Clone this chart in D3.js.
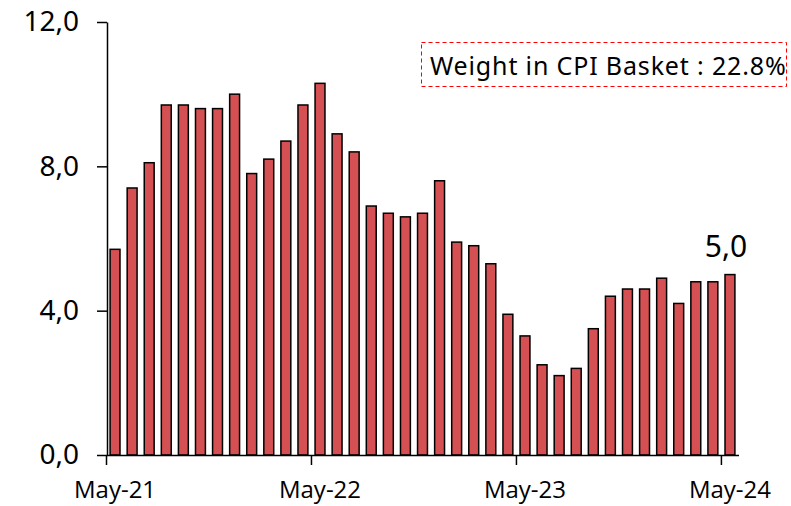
<!DOCTYPE html>
<html>
<head>
<meta charset="utf-8">
<script src="https://cdn.jsdelivr.net/npm/d3@7"></script>
<style>
  body { margin: 0; background: #fff; }
  svg { display: block; }
</style>
</head>
<body>
<svg id="chart" width="791" height="506"></svg>
<script>
// monthly data, May-21 .. May-24
const months = [
  "May-21", "Jun-21", "Jul-21", "Aug-21", "Sep-21", "Oct-21", "Nov-21", "Dec-21",
  "Jan-22", "Feb-22", "Mar-22", "Apr-22", "May-22", "Jun-22", "Jul-22", "Aug-22",
  "Sep-22", "Oct-22", "Nov-22", "Dec-22", "Jan-23", "Feb-23", "Mar-23", "Apr-23",
  "May-23", "Jun-23", "Jul-23", "Aug-23", "Sep-23", "Oct-23", "Nov-23", "Dec-23",
  "Jan-24", "Feb-24", "Mar-24", "Apr-24", "May-24"
];
const values = [
  5.7, 7.4, 8.1, 9.7, 9.7, 9.6, 9.6, 10.0,
  7.8, 8.2, 8.7, 9.7, 10.3, 8.9, 8.4, 6.9,
  6.7, 6.6, 6.7, 7.6, 5.9, 5.8, 5.3, 3.9,
  3.3, 2.5, 2.2, 2.4, 3.5, 4.4, 4.6, 4.6,
  4.9, 4.2, 4.8, 4.8, 5.0
];
const yTicks = [0, 4, 8, 12];
const xTickLabels = ["May-21", "May-22", "May-23", "May-24"];
const noteText = "Weight in CPI Basket : 22.8%";
const lastLabel = "5,0";

const svg = d3.select("#chart");

const x = d3.scaleBand()
  .domain(months)
  .range([106.5, 738.5])
  .paddingInner(0.42)
  .paddingOuter(0.21);

const y = d3.scaleLinear()
  .domain([0, 12])
  .range([455, 22]);

const fmt = (d) => d.toFixed(1).replace(".", ",");

// bars
svg.append("g")
  .selectAll("rect")
  .data(values)
  .join("rect")
  .attr("x", (d, i) => x(months[i]))
  .attr("y", (d) => y(d))
  .attr("width", x.bandwidth())
  .attr("height", (d) => y(0) - y(d))
  .attr("fill", "#d45052")
  .attr("stroke", "#000")
  .attr("stroke-width", 1.5);

// y axis
const yAxis = svg.append("g")
  .attr("transform", "translate(107,0)")
  .call(d3.axisLeft(y).tickValues(yTicks).tickFormat(fmt).tickSize(10).tickSizeOuter(0));
yAxis.select(".domain").attr("stroke", "#000").attr("stroke-width", 1.5);
yAxis.selectAll(".tick line").attr("stroke-width", 1.5);
yAxis.selectAll(".tick text")
  .attr("x", -28)
  .attr("font-family", "'Noto Sans', sans-serif")
  .attr("font-size", 28)
  .attr("fill", "#000");

// x axis: ticks at category boundaries, labels under the bar
const xAxis = svg.append("g")
  .attr("transform", `translate(0,${y(0)})`)
  .call(d3.axisBottom(x).tickValues(xTickLabels).tickSize(10).tickSizeOuter(0));
xAxis.select(".domain").attr("stroke", "#000").attr("stroke-width", 1.5);
xAxis.selectAll(".tick line")
  .attr("x1", -x.step() / 2)
  .attr("x2", -x.step() / 2)
  .attr("stroke-width", 1.5);
xAxis.selectAll(".tick text")
  .attr("y", 43)
  .attr("dy", null)
  .attr("font-family", "'Open Sans', 'Noto Sans', sans-serif")
  .attr("font-size", 24)
  .attr("fill", "#000");

// value label on the last bar
const lastName = months[months.length - 1];
svg.append("text")
  .attr("x", x(lastName) + x.bandwidth() / 2 - 4)
  .attr("y", y(values[values.length - 1]) - 18)
  .attr("text-anchor", "middle")
  .attr("font-family", "'Noto Sans', sans-serif")
  .attr("font-size", 30)
  .attr("fill", "#000")
  .text(lastLabel);

// note box
svg.append("rect")
  .attr("x", 421.5)
  .attr("y", 42.5)
  .attr("width", 365)
  .attr("height", 44)
  .attr("fill", "none")
  .attr("stroke", "#ff0000")
  .attr("stroke-width", 1)
  .attr("stroke-dasharray", "4,3");

svg.append("text")
  .attr("x", 430)
  .attr("y", 75)
  .attr("font-family", "'Noto Sans', sans-serif")
  .attr("font-size", 25)
  .attr("letter-spacing", 0.85)
  .attr("fill", "#000")
  .text(noteText);
</script>
</body>
</html>
